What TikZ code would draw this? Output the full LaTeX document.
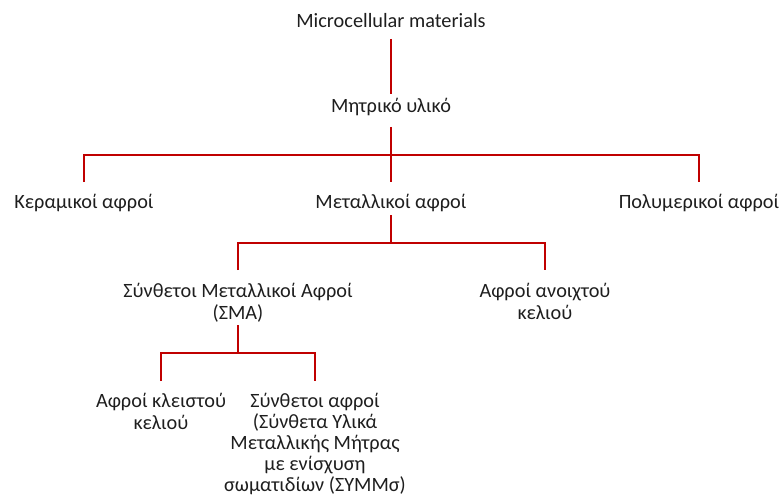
\documentclass[tikz,border=0pt]{standalone}
\usepackage{fontspec}
\setmainfont{Carlito}
\definecolor{branch}{RGB}{192,0,0}
\definecolor{ink}{RGB}{30,30,30}
\begin{document}
\begin{tikzpicture}[x=1pt,y=-1pt,
  lbl/.style={inner sep=0pt, anchor=base, text=ink, align=center,
              font=\fontsize{20.3}{21.7}\selectfont},
  conn/.style={draw=branch, line width=2.8pt, line join=miter}]
\useasboundingbox (0,0) rectangle (783,497);

% labels, placed by the baseline of their last line
\node[lbl] (mc)  at (391,28)  {Microcellular materials};
\node[lbl] (mat) at (391,113) {Μητρικό υλικό};
\node[lbl] (ker) at (84,208)  {Κεραμικοί αφροί};
\node[lbl] (met) at (391,208) {Μεταλλικοί αφροί};
\node[lbl] (pol) at (699,208) {Πολυμερικοί αφροί};
\node[lbl] (sma) at (238,319) {Σύνθετοι Μεταλλικοί Αφροί\\(ΣΜΑ)};
\node[lbl] (opn) at (545,319) {Αφροί ανοιχτού\\κελιού};
\node[lbl] (cls) at (161,429) {Αφροί κλειστού\\κελιού};
\node[lbl, font=\fontsize{20.3}{21}\selectfont] (cmp) at (315,491)
  {Σύνθετοι αφροί\\(Σύνθετα Υλικά\\Μεταλλικής Μήτρας\\με ενίσχυση\\σωματιδίων (ΣΥΜΜσ)};

% branching points
\coordinate (j1) at (391,155);
\coordinate (j2) at (391,243);
\coordinate (j3) at (238,353);

% connectors
\draw[conn] ([yshift=-11pt]mc.base) -- ([yshift=19pt]mat.base);
\draw[conn] ([yshift=-14pt]mat.base) -- (j1);
\draw[conn] ([yshift=26pt]ker.base) |- (j1) -| ([yshift=26pt]pol.base);
\draw[conn] (j1) -- ([yshift=26pt]met.base);
\draw[conn] ([yshift=-7pt]met.base) -- (j2);
\draw[conn] ([yshift=49pt]sma.base) |- (j2) -| ([yshift=49pt]opn.base);
\draw[conn] ([yshift=-6pt]sma.base) -- (j3);
\draw[conn] ([yshift=48pt]cls.base) |- (j3) -| ([yshift=110pt]cmp.base);
\end{tikzpicture}
\end{document}
